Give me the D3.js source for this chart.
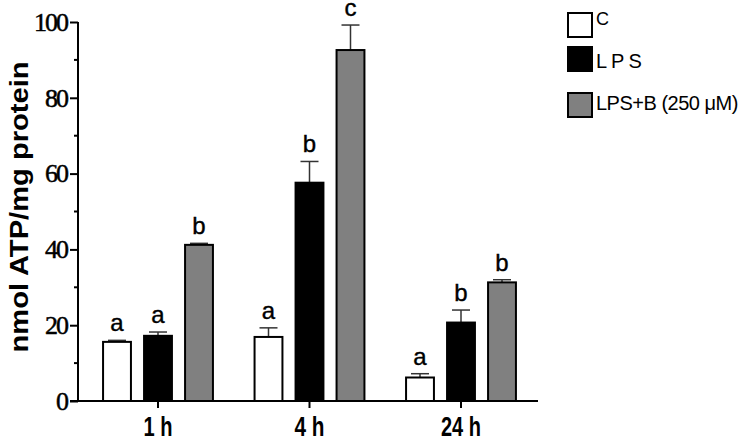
<!DOCTYPE html>
<html lang="en">
<head>
    <meta charset="UTF-8">
    <title>ATP</title>
    <script src="https://cdn.jsdelivr.net/npm/d3@7/dist/d3.min.js"></script>
    <style>
        body { margin:0; background:#fff; }
    </style>
</head>
<body>
    <div class="chart"></div>
    <script>
        // data
        var groups = ["1 h", "4 h", "24 h"];
        var series = ["C", "LPS", "LPS+B (250 μM)"];
        var means = [
            [15.6, 17.2, 41.2],   // 1 h
            [16.9, 57.6, 92.6],   // 4 h
            [6.2, 20.7, 31.3]     // 24 h
        ];
        var errs = [
            [0.4, 1.0, 0.4],
            [2.4, 5.6, 6.6],
            [1.0, 3.3, 0.7]
        ];
        var letters = [
            ["a", "a", "b"],
            ["a", "b", "c"],
            ["a", "b", "b"]
        ];
        var colors = ["#ffffff", "#000000", "#808080"];
        var yMajor = [0, 20, 40, 60, 80, 100];
        var yMinor = [10, 30, 50, 70, 90];
        var groupLabelWidth = [29, 30, 40];

        var W = 756, H = 443;
        var sans = "'Liberation Sans', Arial, sans-serif";
        var svg = d3.select(".chart").append("svg")
            .attr("width", W).attr("height", H);

        var y = d3.scaleLinear().domain([0, 100]).range([401, 22]);
        var x0 = d3.scaleBand().domain(groups).range([82.25, 536.75]);
        var x1 = d3.scaleBand().domain(series).range([-61.5, 61.5])
            .paddingInner(0.32).paddingOuter(0.16);
        var axisX = 78;

        // y axis (major + minor ticks)
        var gy = svg.append("g").attr("transform", "translate(" + axisX + ",0)");
        gy.call(d3.axisLeft(y).tickValues(yMajor).tickSize(8).tickPadding(3).tickFormat(d3.format("d")))
        gy.select(".domain").remove();
        gy.selectAll(".tick line").attr("stroke", "#000").attr("stroke-width", 2);
        gy.selectAll(".tick text")
            .attr("font-family", "'Liberation Serif', 'Times New Roman', serif")
            .attr("font-size", 26).attr("fill", "#000")
            .attr("stroke", "#000").attr("stroke-width", 0.5)
            .attr("letter-spacing", -2);
        gy.append("g").selectAll("line").data(yMinor).enter().append("line")
            .attr("x1", -4).attr("x2", 0)
            .attr("y1", d => y(d)).attr("y2", d => y(d))
            .attr("stroke", "#000").attr("stroke-width", 2);
        gy.append("line")
            .attr("x1", 0).attr("x2", 0).attr("y1", y(100)).attr("y2", y(0))
            .attr("stroke", "#000").attr("stroke-width", 2);

        // x axis
        var gx = svg.append("g").attr("transform", "translate(0," + y(0) + ")");
        gx.call(d3.axisBottom(x0).tickSize(7));
        gx.select(".domain").remove();
        gx.selectAll(".tick line").attr("stroke", "#000").attr("stroke-width", 2);
        gx.selectAll(".tick text")
            .attr("font-family", sans)
            .attr("font-weight", "bold")
            .attr("font-size", 28)
            .attr("fill", "#000")
            .attr("y", 35).attr("dy", null)
            .attr("textLength", (d, i) => groupLabelWidth[i])
            .attr("lengthAdjust", "spacingAndGlyphs");
        gx.append("line")
            .attr("x1", 70).attr("x2", 538).attr("y1", 0).attr("y2", 0)
            .attr("stroke", "#000").attr("stroke-width", 2);

        // y label
        svg.append("text")
            .attr("transform", "translate(28,207) rotate(-90)")
            .attr("text-anchor", "middle")
            .attr("font-family", sans)
            .attr("font-weight", "bold")
            .attr("font-size", 26)
            .attr("textLength", 291)
            .attr("lengthAdjust", "spacingAndGlyphs")
            .text("nmol ATP/mg protein");

        // bars
        var cells = [];
        groups.forEach((g, gi) => {
            series.forEach((s, si) => {
                cells.push({g: g, s: s, si: si, v: means[gi][si], e: errs[gi][si], l: letters[gi][si]});
            });
        });

        var cell = svg.append("g").selectAll(".cell").data(cells).enter().append("g")
            .attr("class", "cell")
            .attr("transform", d => "translate(" + (x0(d.g) + x0.bandwidth() / 2) + ",0)");

        // error bars (upper only)
        cell.append("line")
            .attr("x1", d => x1(d.s) + x1.bandwidth() / 2)
            .attr("x2", d => x1(d.s) + x1.bandwidth() / 2)
            .attr("y1", d => y(d.v)).attr("y2", d => y(d.v + d.e))
            .attr("stroke", "#333").attr("stroke-width", 1.5);
        cell.append("line")
            .attr("x1", d => x1(d.s) + x1.bandwidth() / 2 - 9)
            .attr("x2", d => x1(d.s) + x1.bandwidth() / 2 + 9)
            .attr("y1", d => y(d.v + d.e)).attr("y2", d => y(d.v + d.e))
            .attr("stroke", "#333").attr("stroke-width", 1.5);

        cell.append("rect")
            .attr("x", d => x1(d.s))
            .attr("width", x1.bandwidth())
            .attr("y", d => y(d.v))
            .attr("height", d => y(0) - y(d.v))
            .attr("fill", d => colors[d.si])
            .attr("stroke", "#000").attr("stroke-width", 2);

        cell.append("text")
            .attr("x", d => x1(d.s) + x1.bandwidth() / 2)
            .attr("y", d => y(d.v + d.e) - 9)
            .attr("text-anchor", "middle")
            .attr("font-family", sans)
            .attr("font-size", 24)
            .attr("stroke", "#000").attr("stroke-width", 0.4)
            .text(d => d.l);

        // legend
        var legY = [13, 47, 93];
        var legBase = [25, 68, 110];
        var legSize = [18, 20, 20];
        var legSpacing = [0, 4, -0.5];
        var leg = svg.append("g").selectAll("g").data(series).enter().append("g");
        leg.append("rect")
            .attr("x", 568).attr("y", (d, i) => legY[i])
            .attr("width", 24).attr("height", 24)
            .attr("fill", (d, i) => colors[i])
            .attr("stroke", "#000").attr("stroke-width", 2);
        leg.append("text")
            .attr("x", 596).attr("y", (d, i) => legBase[i])
            .attr("font-family", sans)
            .attr("font-size", (d, i) => legSize[i])
            .attr("letter-spacing", (d, i) => legSpacing[i])
            .text(d => d);
    </script>
</body>
</html>
